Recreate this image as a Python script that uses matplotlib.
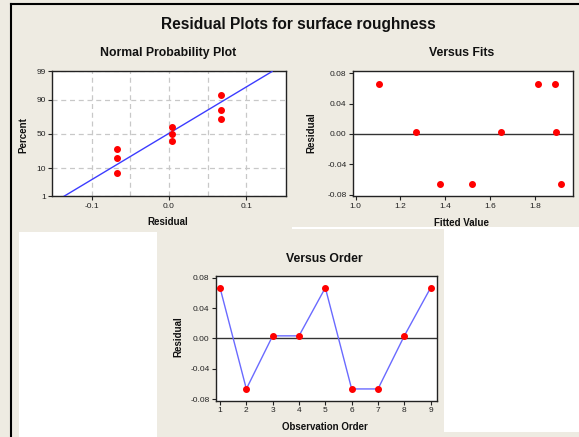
import numpy as np
import matplotlib
matplotlib.use('Agg')
import matplotlib.pyplot as plt
from matplotlib import font_manager
from matplotlib.patches import Rectangle
from matplotlib.lines import Line2D
from statistics import NormalDist

# residuals in observation order
obs_order = [1, 2, 3, 4, 5, 6, 7, 8, 9]
residuals = [0.0667, -0.0667, 0.0033, 0.0033, 0.0667, -0.0667, -0.0667, 0.0033, 0.0667]
fitted = [1.105, 1.378, 1.271, 1.649, 1.812, 1.518, 1.916, 1.896, 1.889]

# normal probability plot: sorted residuals and their plotting percent
prob_resid = [-0.0667, -0.0667, -0.0667, 0.0033, 0.0033, 0.0033, 0.0667, 0.0667, 0.0667]
prob_pct = [7.4, 18.1, 28.7, 39.4, 50.0, 60.6, 71.3, 81.9, 92.6]
line_x = [-0.136, 0.133]
line_pct = [1, 99]

pct_ticks = [1, 10, 50, 90, 99]
resid_ticks = [-0.08, -0.04, 0.0, 0.04, 0.08]

W, H = 579, 437
BG = '#eeebe2'
RED = '#ff0000'
FONT = ['Liberation Sans', 'DejaVu Sans']
plt.rcParams['font.family'] = FONT

# tick labels in the original are narrow; use a narrow face if there is one
installed = {f.name for f in font_manager.fontManager.ttflist}
if 'Liberation Sans Narrow' in installed:
    TICK_FONT, TICK_SIZE = ['Liberation Sans Narrow', 'DejaVu Sans'], 6.8
else:
    TICK_FONT, TICK_SIZE = FONT, 6.0

fig = plt.figure(figsize=(W / 100, H / 100), dpi=100, facecolor=BG)

def px_axes(x0, y0, x1, y1):
    return fig.add_axes([x0 / W, 1 - y1 / H, (x1 - x0) / W, (y1 - y0) / H])

def px_text(x, y, s, size, **kw):
    fig.text(x / W, 1 - y / H, s, fontsize=size, fontweight='bold', color='#111111', **kw)

# white blocks and frame lines
fig.add_artist(Rectangle((19 / W, 0), (157 - 19) / W, 1 - 232 / H, transform=fig.transFigure,
                         facecolor='white', edgecolor='none', zorder=0))
fig.add_artist(Rectangle((444 / W, 1 - 432 / H), (W - 444) / W, (432 - 229) / H, transform=fig.transFigure,
                         facecolor='white', edgecolor='none', zorder=0))
fig.add_artist(Rectangle((292 / W, 1 - 229 / H), (W - 292) / W, 2.5 / H, transform=fig.transFigure,
                         facecolor='white', edgecolor='none', zorder=0))
fig.add_artist(Line2D([11 / W, 1], [1 - 3.5 / H, 1 - 3.5 / H], transform=fig.transFigure, color='black', lw=1.5))
fig.add_artist(Line2D([11 / W, 11 / W], [0, 1 - 3.5 / H], transform=fig.transFigure, color='black', lw=1.5))

_nd = NormalDist()

def pct_to_z(p):
    p = np.clip(np.asarray(p, dtype=float), 1e-4, 100 - 1e-4)
    return np.vectorize(lambda v: _nd.inv_cdf(v / 100), otypes=[float])(p)

def z_to_pct(z):
    return np.vectorize(lambda v: _nd.cdf(v) * 100, otypes=[float])(np.asarray(z, dtype=float))

def style_axes(ax):
    ax.set_facecolor('white')
    for sp in ax.spines.values():
        sp.set_color('#222222')
        sp.set_linewidth(1.0)
    ax.tick_params(direction='out', length=3, width=0.8, labelsize=TICK_SIZE, pad=1.5, colors='#222222')

def tick_font(ax):
    for lab in ax.get_xticklabels() + ax.get_yticklabels():
        lab.set_family(TICK_FONT)

# Normal Probability Plot
ax1 = px_axes(52, 71.5, 286, 196.5)
style_axes(ax1)
ax1.set_yscale('function', functions=(pct_to_z, z_to_pct))
ax1.set_ylim(1, 99)
ax1.set_xlim(-0.151, 0.151)
ax1.set_yticks(pct_ticks)
ax1.set_yticklabels([str(t) for t in pct_ticks])
ax1.set_xticks([-0.1, 0.0, 0.1])
ax1.set_xticklabels(['-0.1', '0.0', '0.1'])
ax1.set_xticks([-0.05, 0.05], minor=True)
ax1.tick_params(axis='x', which='minor', length=0)
ax1.tick_params(axis='y', which='minor', left=False)
ax1.grid(True, which='both', color='#c8c8c8', linestyle=(0, (4, 3)), linewidth=0.9)
ax1.plot(line_x, line_pct, color='#3c3cff', lw=1.0, zorder=3)
ax1.plot(prob_resid, prob_pct, 'o', color=RED, ms=4, mec=RED, zorder=4)
tick_font(ax1)

# Versus Fits
ax2 = px_axes(352.7, 71.5, 573, 196.5)
style_axes(ax2)
ax2.set_xlim(0.987, 1.97)
ax2.set_ylim(-0.0826, 0.0826)
ax2.set_yticks(resid_ticks)
ax2.set_yticklabels([f'{t:.2f}' for t in resid_ticks])
ax2.set_xticks([1.0, 1.2, 1.4, 1.6, 1.8])
ax2.set_xticklabels(['1.0', '1.2', '1.4', '1.6', '1.8'])
ax2.axhline(0, color='#333333', lw=1.0, zorder=2)
ax2.plot(fitted, residuals, 'o', color=RED, ms=4, mec=RED, zorder=4)
tick_font(ax2)

# Versus Order
ax3 = px_axes(215.7, 275.7, 436.7, 401)
style_axes(ax3)
ax3.set_xlim(0.836, 9.23)
ax3.set_ylim(-0.0826, 0.0826)
ax3.set_yticks(resid_ticks)
ax3.set_yticklabels([f'{t:.2f}' for t in resid_ticks])
ax3.set_xticks(obs_order)
ax3.set_xticklabels([str(o) for o in obs_order])
ax3.axhline(0, color='#333333', lw=1.0, zorder=2)
ax3.plot(obs_order, residuals, '-', color='#6a6aff', lw=1.0, zorder=3)
ax3.plot(obs_order, residuals, 'o', color=RED, ms=4, mec=RED, zorder=4)
tick_font(ax3)

# titles and labels
px_text(298, 29.5, 'Residual Plots for surface roughness', 11.2, ha='center', va='baseline')
px_text(168, 56, 'Normal Probability Plot', 8.8, ha='center', va='baseline')
px_text(462, 56, 'Versus Fits', 8.8, ha='center', va='baseline')
px_text(324, 261.5, 'Versus Order', 8.8, ha='center', va='baseline')
px_text(168, 225, 'Residual', 7, ha='center', va='baseline')
px_text(462, 226, 'Fitted Value', 7, ha='center', va='baseline')
px_text(325, 430, 'Observation Order', 7, ha='center', va='baseline')
px_text(23, 135, 'Percent', 7, ha='center', va='center', rotation=90)
px_text(311, 133, 'Residual', 7, ha='center', va='center', rotation=90)
px_text(178.5, 337, 'Residual', 7, ha='center', va='center', rotation=90)

fig.savefig('out.png', dpi=100, facecolor=BG)
